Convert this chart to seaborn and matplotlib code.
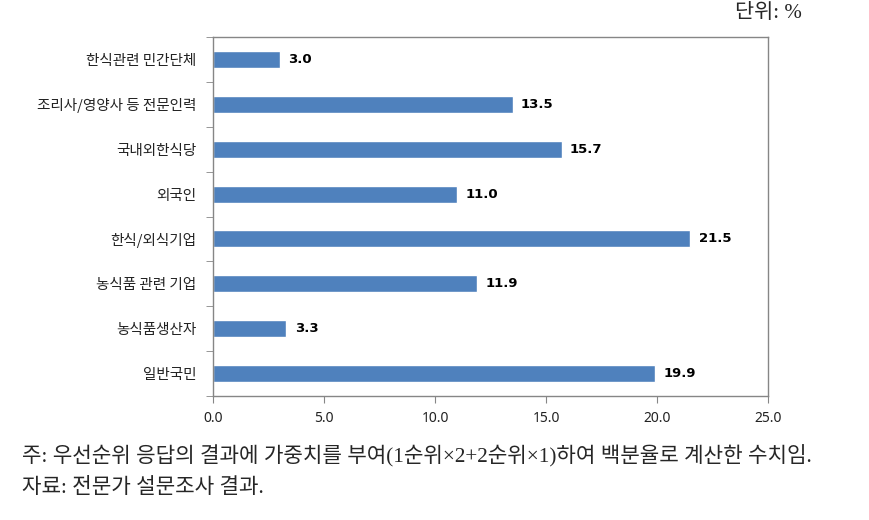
import numpy as np
import pandas as pd
import matplotlib
matplotlib.use("Agg")
import matplotlib.pyplot as plt
import seaborn as sns

categories = ["한식관련 민간단체", "조리사/영양사 등 전문인력", "국내외한식당", "외국인",
              "한식/외식기업", "농식품 관련 기업", "농식품생산자", "일반국민"]
values = [3.0, 13.5, 15.7, 11.0, 21.5, 11.9, 3.3, 19.9]
x_ticks = [0, 5, 10, 15, 20, 25]
x_tick_labels = ["0.0", "5.0", "10.0", "15.0", "20.0", "25.0"]

note1 = "주: 우선순위 응답의 결과에 가중치를 부여(1순위×2+2순위×1)하여 백분율로 계산한 수치임."
note2 = "자료: 전문가 설문조사 결과."
unit = "단위: %"

sns.set_style("white")
plt.rcParams['font.family'] = ['Noto Sans CJK KR', 'DejaVu Sans']

df = pd.DataFrame({"cat": categories, "val": values})

fig = plt.figure(figsize=(8.69, 5.2), dpi=100)
ax = fig.add_axes([213/869, 1-396/520, (768-213)/869, (396-37)/520])

sns.barplot(data=df, y="cat", x="val", order=categories, color="#4F81BD",
            saturation=1, width=0.38, ax=ax, orient="h")

for i, v in enumerate(values):
    ax.annotate(f"{v:.1f}", xy=(v, i), xytext=(6, 0), textcoords="offset points",
                ha="left", va="center", fontsize=9.5, fontweight="bold",
                color="#000000", family="DejaVu Sans")

ax.set_xlim(0, 25)
ax.set_ylim(7.5, -0.5)
ax.set_xticks(x_ticks)
ax.set_xticklabels(x_tick_labels, fontsize=10, family=['Noto Sans', 'DejaVu Sans'], color="#222222")
ax.set_yticks(range(len(categories)))
ax.set_yticklabels(categories, fontsize=10.5, color="#222222")
ax.set_yticks(np.arange(-0.5, len(categories), 1), minor=True)
ax.tick_params(axis="y", which="major", length=0, pad=12)
ax.tick_params(axis="y", which="minor", length=5, color="#868686", direction="out", left=True)
ax.tick_params(axis="x", which="major", length=5, color="#868686", direction="out", bottom=True, pad=6)
ax.set_xlabel("")
ax.set_ylabel("")
for s in ax.spines.values():
    s.set_visible(True)
    s.set_color("#868686")
    s.set_linewidth(1.0)

serif = ['Liberation Serif', 'Noto Sans CJK KR']
fig.text(802/869, 1-14/520, unit, ha="right", va="center", fontsize=15, family=serif)
fig.text(22/869, 1-456/520, note1, ha="left", va="center", fontsize=15.3, family=serif)
fig.text(22/869, 1-488/520, note2, ha="left", va="center", fontsize=15.3, family=serif)

fig.savefig("out.png", dpi=100, facecolor="white")
